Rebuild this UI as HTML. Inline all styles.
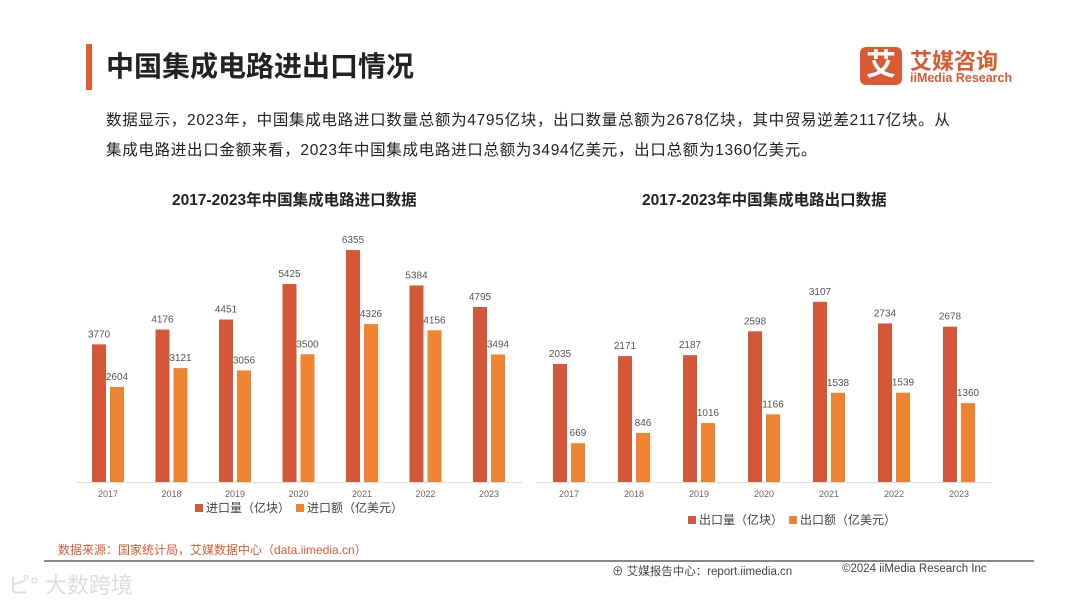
<!DOCTYPE html>
<html><head><meta charset="utf-8"><style>
body{margin:0;width:1080px;height:602px;background:#fff;overflow:hidden;position:relative;font-family:"Liberation Sans","Noto Sans CJK SC",sans-serif;}
.a{position:absolute;white-space:nowrap;}
</style></head><body>
<div class="a" style="left:86px;top:44px;width:6px;height:46px;background:#e8572f"></div>
<div class="a" style="left:106px;top:45px;font-size:28px;font-weight:bold;color:#222">中国集成电路进出口情况</div>
<div class="a" style="left:860px;top:46px;width:160px;height:42px">
 <div style="position:absolute;left:0;top:1px;width:42px;height:38px;background:#d95a33;border-radius:6px;color:#fff;font-size:30px;font-weight:bold;text-align:center;line-height:38px">艾</div>
 <div style="position:absolute;left:50px;top:-2px;font-size:22px;font-weight:bold;color:#d95a33">艾媒咨询</div>
 <div style="position:absolute;left:50px;top:25px;font-size:12.5px;font-weight:bold;color:#d95a33">iiMedia Research</div>
</div>
<div class="a" style="left:106px;top:106px;font-size:15.5px;letter-spacing:0.7px;color:#222;line-height:30px">数据显示，2023年，中国集成电路进口数量总额为4795亿块，出口数量总额为2678亿块，其中贸易逆差2117亿块。从<br>集成电路进出口金额来看，2023年中国集成电路进口总额为3494亿美元，出口总额为1360亿美元。</div>
<div class="a" style="left:172px;top:188px;font-size:15.5px;font-weight:bold;color:#222">2017-2023年中国集成电路进口数据</div>
<div class="a" style="left:642px;top:188px;font-size:15.5px;font-weight:bold;color:#222">2017-2023年中国集成电路出口数据</div>
<svg class="a" style="left:0;top:0" width="1080" height="602" id="chart"></svg>
<div class="a" style="left:58px;top:541px;font-size:12px;color:#d95a33">数据来源：国家统计局，艾媒数据中心（data.iimedia.cn）</div>
<div class="a" style="left:44px;top:560px;width:990px;height:2px;background:#888"></div>
<div class="a" style="left:612px;top:563px;font-size:11.5px;color:#444">⊕ 艾媒报告中心：report.iimedia.cn</div>
<div class="a" style="left:842px;top:563px;font-size:11.5px;color:#444">©2024  iiMedia Research  Inc</div>
<div class="a" style="left:8px;top:568px;font-size:22px;color:#ddd">ピ° 大数跨境</div>
<script>
const years=["2017","2018","2019","2020","2021","2022","2023"];
const importQty=[3770,4176,4451,5425,6355,5384,4795];
const importVal=[2604,3121,3056,3500,4326,4156,3494];
const exportQty=[2035,2171,2187,2598,3107,2734,2678];
const exportVal=[669,846,1016,1166,1538,1539,1360];
const svg=document.getElementById('chart');
const NS='http://www.w3.org/2000/svg';
function mk(t,at){const e=document.createElementNS(NS,t);for(const k in at)e.setAttribute(k,at[k]);svg.appendChild(e);return e;}
function chart(cfg){
 const base=482;
 const y=v=>base-v*cfg.scale;
 const x=i=>cfg.x0+i*cfg.step;
 const ax=mk('line',{x1:cfg.ax0,x2:cfg.ax1,y1:base+0.5,y2:base+0.5,stroke:'#ddd','stroke-width':1});
 
 
 years.forEach((yr,i)=>{
  const b1=mk('rect',{x:x(i),y:y(cfg.a[i]),width:14,height:base-y(cfg.a[i]),fill:'#d4573a'});
  
  
  const b2=mk('rect',{x:x(i)+18,y:y(cfg.b[i]),width:14,height:base-y(cfg.b[i]),fill:'#ee8331'});
  
  
  const t1=mk('text',{x:x(i)+7,y:y(cfg.a[i])-7,'text-anchor':'middle','font-size':10,fill:'#555'});t1.textContent=cfg.a[i];
  
  
  const t2=mk('text',{x:x(i)+25,y:y(cfg.b[i])-7,'text-anchor':'middle','font-size':10,fill:'#555'});t2.textContent=cfg.b[i];
  
  
  const t3=mk('text',{x:x(i)+16,y:497,'text-anchor':'middle','font-size':9,fill:'#666'});t3.textContent=yr;
  
  
 });
 const lx=cfg.lx,ly=cfg.ly;
 const r1=mk('rect',{x:lx,y:ly-8,width:8,height:8,fill:'#d4573a'});
 
 
 const l1=mk('text',{x:lx+11,y:ly,'font-size':12,fill:'#444'});l1.textContent=cfg.l1;
 
 
 const r2=mk('rect',{x:lx+101,y:ly-8,width:8,height:8,fill:'#ee8331'});
 
 
 const l2=mk('text',{x:lx+112,y:ly,'font-size':12,fill:'#444'});l2.textContent=cfg.l2;
 
 
}
chart({id:'import',a:importQty,b:importVal,scale:0.0365,x0:92,step:63.5,ax0:77,ax1:522,lx:195,ly:512,l1:'进口量（亿块）',l2:'进口额（亿美元）'});
chart({id:'export',a:exportQty,b:exportVal,scale:0.058,x0:553,step:65,ax0:535,ax1:993,lx:688,ly:524,l1:'出口量（亿块）',l2:'出口额（亿美元）'});
</script>
</body></html>
